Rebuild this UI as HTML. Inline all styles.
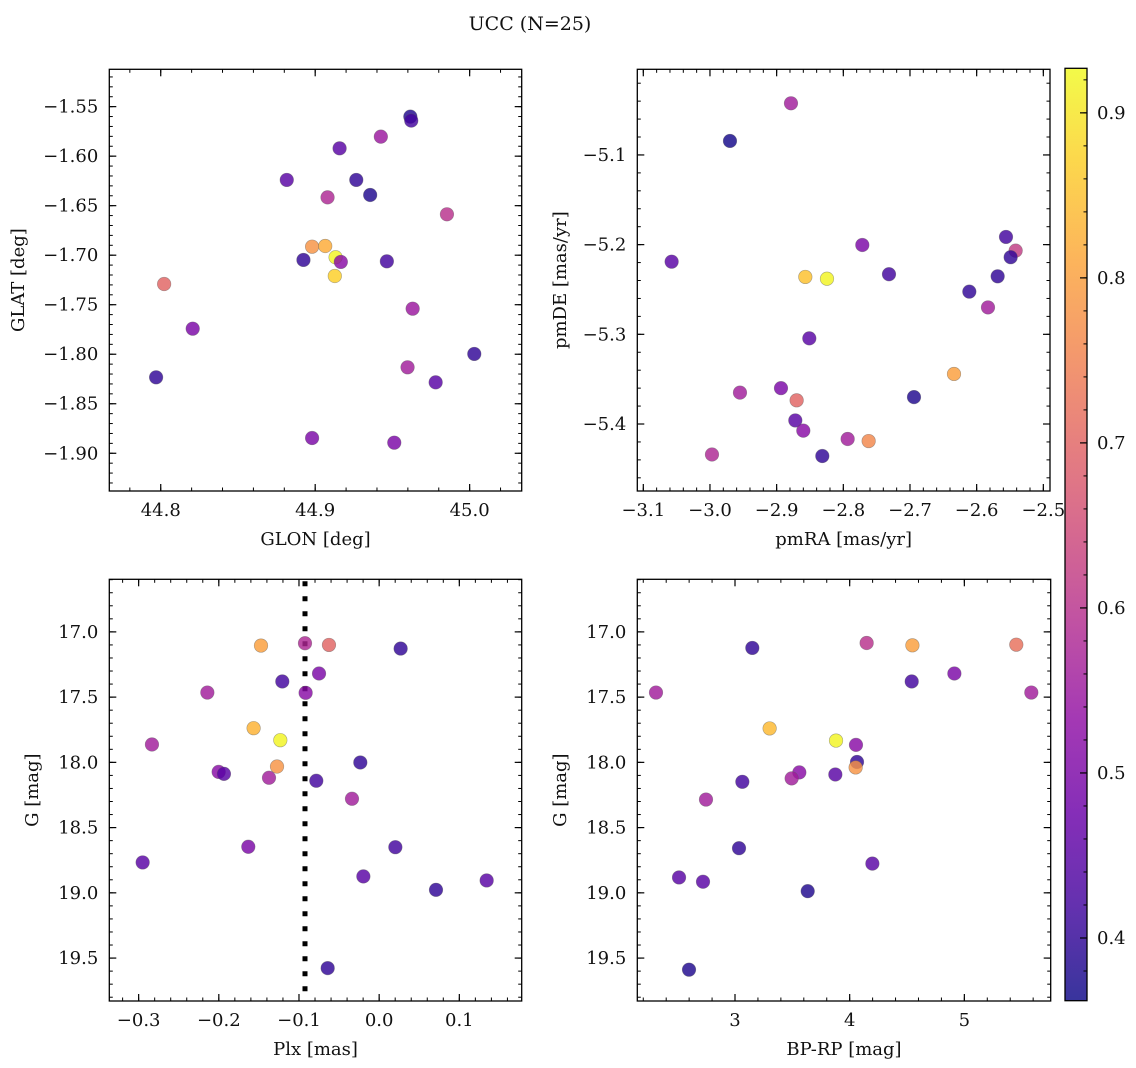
<!DOCTYPE html>
<html><head><meta charset="utf-8">
<style>
html,body{margin:0;padding:0;background:#fff;}
svg{display:block;font-family:"DejaVu Serif","Liberation Serif",serif;}
text{fill:#111;}
</style></head>
<body>
<svg id="fig" width="1136" height="1068" viewBox="0 0 1136 1068" xmlns="http://www.w3.org/2000/svg">
<rect width="1136" height="1068" fill="#fff"/>
<text x="530" y="30" text-anchor="middle" font-size="19">UCC (N=25)</text>
</svg>
<script>
// ---- data ----
const glon = [44.9616,44.9622,44.9425,44.9158,44.8816,44.9266,44.9356,44.908,44.9853,44.898,44.9065,44.8924,44.9132,44.9166,44.9464,44.9127,44.8022,44.9631,44.8207,45.003,44.797,44.9598,44.978,44.898,44.9512];
const glat = [-1.5601,-1.5641,-1.5803,-1.5921,-1.624,-1.624,-1.6392,-1.6416,-1.6587,-1.6914,-1.6907,-1.7048,-1.7021,-1.7068,-1.7062,-1.721,-1.7291,-1.754,-1.7742,-1.7997,-1.8233,-1.8132,-1.8284,-1.8846,-1.8893];
const probA = [0.38,0.42,0.55,0.45,0.45,0.4,0.38,0.58,0.6,0.78,0.82,0.4,0.92,0.52,0.42,0.87,0.7,0.55,0.5,0.4,0.4,0.56,0.45,0.5,0.5];

const pmra = [-2.8785,-2.970,-3.0575,-2.7715,-2.857,-2.8245,-2.7315,-2.556,-2.5415,-2.549,-2.5685,-2.611,-2.583,-2.851,-2.955,-2.8935,-2.870,-2.634,-2.694,-2.872,-2.860,-2.7935,-2.762,-2.8315,-2.997];
const pmde = [-5.0424,-5.0844,-5.219,-5.2004,-5.236,-5.238,-5.233,-5.1914,-5.2067,-5.214,-5.2353,-5.2524,-5.270,-5.3045,-5.365,-5.360,-5.3736,-5.3442,-5.370,-5.396,-5.4074,-5.4167,-5.419,-5.4357,-5.434];
const probB = [0.56,0.37,0.45,0.5,0.85,0.92,0.42,0.42,0.62,0.4,0.4,0.4,0.56,0.45,0.56,0.5,0.7,0.8,0.38,0.45,0.52,0.56,0.76,0.4,0.58];

const plx = [-0.1474,-0.0925,-0.0626,0.0268,-0.1208,-0.075,-0.2143,-0.0917,-0.1566,-0.1233,-0.2834,-0.2002,-0.1936,-0.1274,-0.1374,-0.0784,-0.0235,-0.0339,-0.1632,0.0202,-0.295,-0.0197,0.0709,0.1341,-0.0642];
const gmagC = [17.105,17.087,17.100,17.128,17.380,17.319,17.465,17.467,17.738,17.830,17.863,18.073,18.088,18.032,18.118,18.141,18.001,18.279,18.647,18.650,18.767,18.874,18.977,18.905,19.577];
const probC = [0.8,0.58,0.7,0.4,0.42,0.5,0.56,0.52,0.83,0.92,0.56,0.52,0.45,0.78,0.56,0.42,0.4,0.56,0.5,0.42,0.45,0.45,0.4,0.45,0.4];
const plxMean = [-0.0925];

const bprp = [3.151,4.148,4.547,5.453,4.541,4.913,2.311,5.584,3.302,3.881,4.055,4.064,4.052,3.561,3.494,3.875,3.064,2.747,3.035,4.198,2.512,2.721,3.634,2.599];
const gmagD = [17.123,17.085,17.103,17.098,17.380,17.319,17.465,17.465,17.740,17.833,17.866,17.997,18.039,18.077,18.123,18.093,18.149,18.285,18.658,18.776,18.882,18.915,18.987,19.589];
const probD = [0.4,0.6,0.8,0.72,0.42,0.5,0.56,0.56,0.84,0.92,0.52,0.4,0.78,0.52,0.56,0.45,0.42,0.56,0.4,0.45,0.45,0.45,0.38,0.38];

const cbTicks = [0.4,0.5,0.6,0.7,0.8,0.9];
const ticksA_x = [44.8,44.9,45.0], ticksA_y = [-1.55,-1.60,-1.65,-1.70,-1.75,-1.80,-1.85,-1.90];
const ticksB_x = [-3.1,-3.0,-2.9,-2.8,-2.7,-2.6,-2.5], ticksB_y = [-5.1,-5.2,-5.3,-5.4];
const ticksC_x = [-0.3,-0.2,-0.1,0.0,0.1], ticksG = [17.0,17.5,18.0,18.5,19.0,19.5];
const ticksD_x = [3,4,5];

// ---- helpers ----
const NS="http://www.w3.org/2000/svg";
const svg=document.getElementById('fig');
function mk(tag,attrs,parent){const e=document.createElementNS(NS,tag);for(const k in attrs)e.setAttribute(k,attrs[k]);(parent||svg).appendChild(e);return e;}
const VMIN=0.362,VMAX=0.927;
const stops=[[13,8,135],[65,4,157],[106,0,168],[143,13,164],[177,42,144],[204,71,120],[225,100,98],[242,132,75],[252,166,54],[252,206,37],[240,249,33]];
function plasma(t){t=Math.max(0,Math.min(1,t));const f=t*10,i=Math.min(9,Math.floor(f)),u=f-i;const a=stops[i],b=stops[i+1];return 'rgb('+[0,1,2].map(k=>Math.round(a[k]+(b[k]-a[k])*u)).join(',')+')';}
function cmap(v){return plasma((v-VMIN)/(VMAX-VMIN));}
function fmt(v,d){const s=Math.abs(v).toFixed(d);return (v<-1e-9?'\u2212':'')+s;}

function panel(o){
  const g=mk('g',{});
  
  
  const sx=v=>o.L+(v-o.xr[0])/(o.xr[1]-o.xr[0])*(o.R-o.L);
  const sy=o.yinv?(v=>o.T+(v-o.yr[0])/(o.yr[1]-o.yr[0])*(o.B-o.T)):(v=>o.B-(v-o.yr[0])/(o.yr[1]-o.yr[0])*(o.B-o.T));
  // minor ticks
  const eps=1e-9;
  function minors(r,step){const a=[];for(let v=Math.ceil(r[0]/step-eps)*step;v<=r[1]+eps;v+=step)a.push(v);return a;}
  minors(o.xr,o.xminor).forEach(v=>{const x=sx(v);
    const t1=mk('line',{x1:x,x2:x,y1:o.B,y2:o.B-3.5,stroke:'#000','stroke-width':1},g);
    
    const t2=mk('line',{x1:x,x2:x,y1:o.T,y2:o.T+3.5,stroke:'#000','stroke-width':1},g);
    });
  minors(o.yr,o.yminor).forEach(v=>{const y=sy(v);
    const t1=mk('line',{x1:o.L,x2:o.L+3.5,y1:y,y2:y,stroke:'#000','stroke-width':1},g);
    
    const t2=mk('line',{x1:o.R,x2:o.R-3.5,y1:y,y2:y,stroke:'#000','stroke-width':1},g);
    });
  o.xt.forEach(v=>{const x=sx(v);
    const t1=mk('line',{x1:x,x2:x,y1:o.B,y2:o.B-7,stroke:'#000','stroke-width':1.2},g);
    
    const t2=mk('line',{x1:x,x2:x,y1:o.T,y2:o.T+7,stroke:'#000','stroke-width':1.2},g);
    
    const tl=mk('text',{x:x,y:o.B+25,'text-anchor':'middle','font-size':18},g);tl.textContent=fmt(v,o.xd);
    });
  o.yt.forEach(v=>{const y=sy(v);
    const t1=mk('line',{x1:o.L,x2:o.L+7,y1:y,y2:y,stroke:'#000','stroke-width':1.2},g);
    
    const t2=mk('line',{x1:o.R,x2:o.R-7,y1:y,y2:y,stroke:'#000','stroke-width':1.2},g);
    
    const tl=mk('text',{x:o.L-11,y:y+6,'text-anchor':'end','font-size':18},g);tl.textContent=fmt(v,o.yd);
    });
  if(o.vline){o.vline.forEach(v=>{const x=sx(v);
    const l=mk('line',{x1:x,x2:x,y1:o.T,y2:o.B,stroke:'#000','stroke-width':5,'stroke-dasharray':'5,10','stroke-dashoffset':'-2'},g);
    });}
  o.xs.forEach((v,i)=>{
    const c=mk('circle',{cx:sx(v),cy:sy(o.ys[i]),r:6.8,fill:cmap(o.cs[i]),'fill-opacity':0.82,stroke:'rgba(90,90,90,0.5)','stroke-width':0.6},g);
    
    
  });
  const fr=mk('rect',{x:o.L,y:o.T,width:o.R-o.L,height:o.B-o.T,fill:'none',stroke:'#000','stroke-width':1.3},g);
  
  const xl=mk('text',{x:(o.L+o.R)/2,y:o.B+54,'text-anchor':'middle','font-size':18},g);xl.textContent=o.xlab;
  
  const yl=mk('text',{x:0,y:0,'text-anchor':'middle','font-size':18,transform:'translate('+o.ylx+','+(o.T+o.B)/2+') rotate(-90)'},g);yl.textContent=o.ylab;
  
}

panel({name:'glon-glat-panel',L:109.3,R:521.7,T:69.3,B:491,xr:[44.7667,45.0337],yr:[-1.9381,-1.5123],yinv:false,
  xt:ticksA_x,yt:ticksA_y,xd:1,yd:2,xminor:0.02,yminor:0.01,xs:glon,ys:glat,cs:probA,xlab:'GLON [deg]',ylab:'GLAT [deg]',ylx:24});
panel({name:'pm-panel',L:637.3,R:1050,T:69.3,B:491,xr:[-3.109,-2.49],yr:[-5.4747,-5.0045],yinv:false,
  xt:ticksB_x,yt:ticksB_y,xd:1,yd:1,xminor:0.02,yminor:0.02,xs:pmra,ys:pmde,cs:probB,xlab:'pmRA [mas/yr]',ylab:'pmDE [mas/yr]',ylx:566});
panel({name:'plx-g-panel',L:109.3,R:521.7,T:579.3,B:1001,xr:[-0.3366,0.1778],yr:[16.597,19.829],yinv:true,
  xt:ticksC_x,yt:ticksG,xd:1,yd:1,xminor:0.02,yminor:0.1,xs:plx,ys:gmagC,cs:probC,xlab:'Plx [mas]',ylab:'G [mag]',ylx:38,vline:plxMean});
panel({name:'cmd-panel',L:637.3,R:1050.7,T:579.3,B:1001,xr:[2.148,5.753],yr:[16.597,19.829],yinv:true,
  xt:ticksD_x,yt:ticksG,xd:0,yd:1,xminor:0.2,yminor:0.1,xs:bprp,ys:gmagD,cs:probD,xlab:'BP-RP [mag]',ylab:'G [mag]',ylx:566});

// colorbar
(function(){
  const L=1065,R=1087,T=68.3,B=1000.7;
  const g=mk('g',{});
  
  
  const defs=mk('defs',{},g);
  const lg=mk('linearGradient',{id:'cbg',x1:0,y1:1,x2:0,y2:0},defs);
  for(let i=0;i<=20;i++){const t=i/20;mk('stop',{offset:t,'stop-color':plasma(t),'stop-opacity':0.82},lg);}
  const r=mk('rect',{x:L,y:T,width:R-L,height:B-T,fill:'url(#cbg)'},g);
  
  const sy=v=>B-(v-VMIN)/(VMAX-VMIN)*(B-T);
  for(let v=0.38;v<VMAX;v+=0.02){const y=sy(v);
    const t=mk('line',{x1:R,x2:R-3.5,y1:y,y2:y,stroke:'#000','stroke-width':1},g);
    }
  cbTicks.forEach(v=>{const y=sy(v);
    const t=mk('line',{x1:R,x2:R-7,y1:y,y2:y,stroke:'#000','stroke-width':1.2},g);
    
    const tl=mk('text',{x:R+10,y:y+6,'font-size':18},g);tl.textContent=v.toFixed(1);
    });
  const fr=mk('rect',{x:L,y:T,width:R-L,height:B-T,fill:'none',stroke:'#000','stroke-width':1.3},g);
  
})();
</script>
</body></html>
